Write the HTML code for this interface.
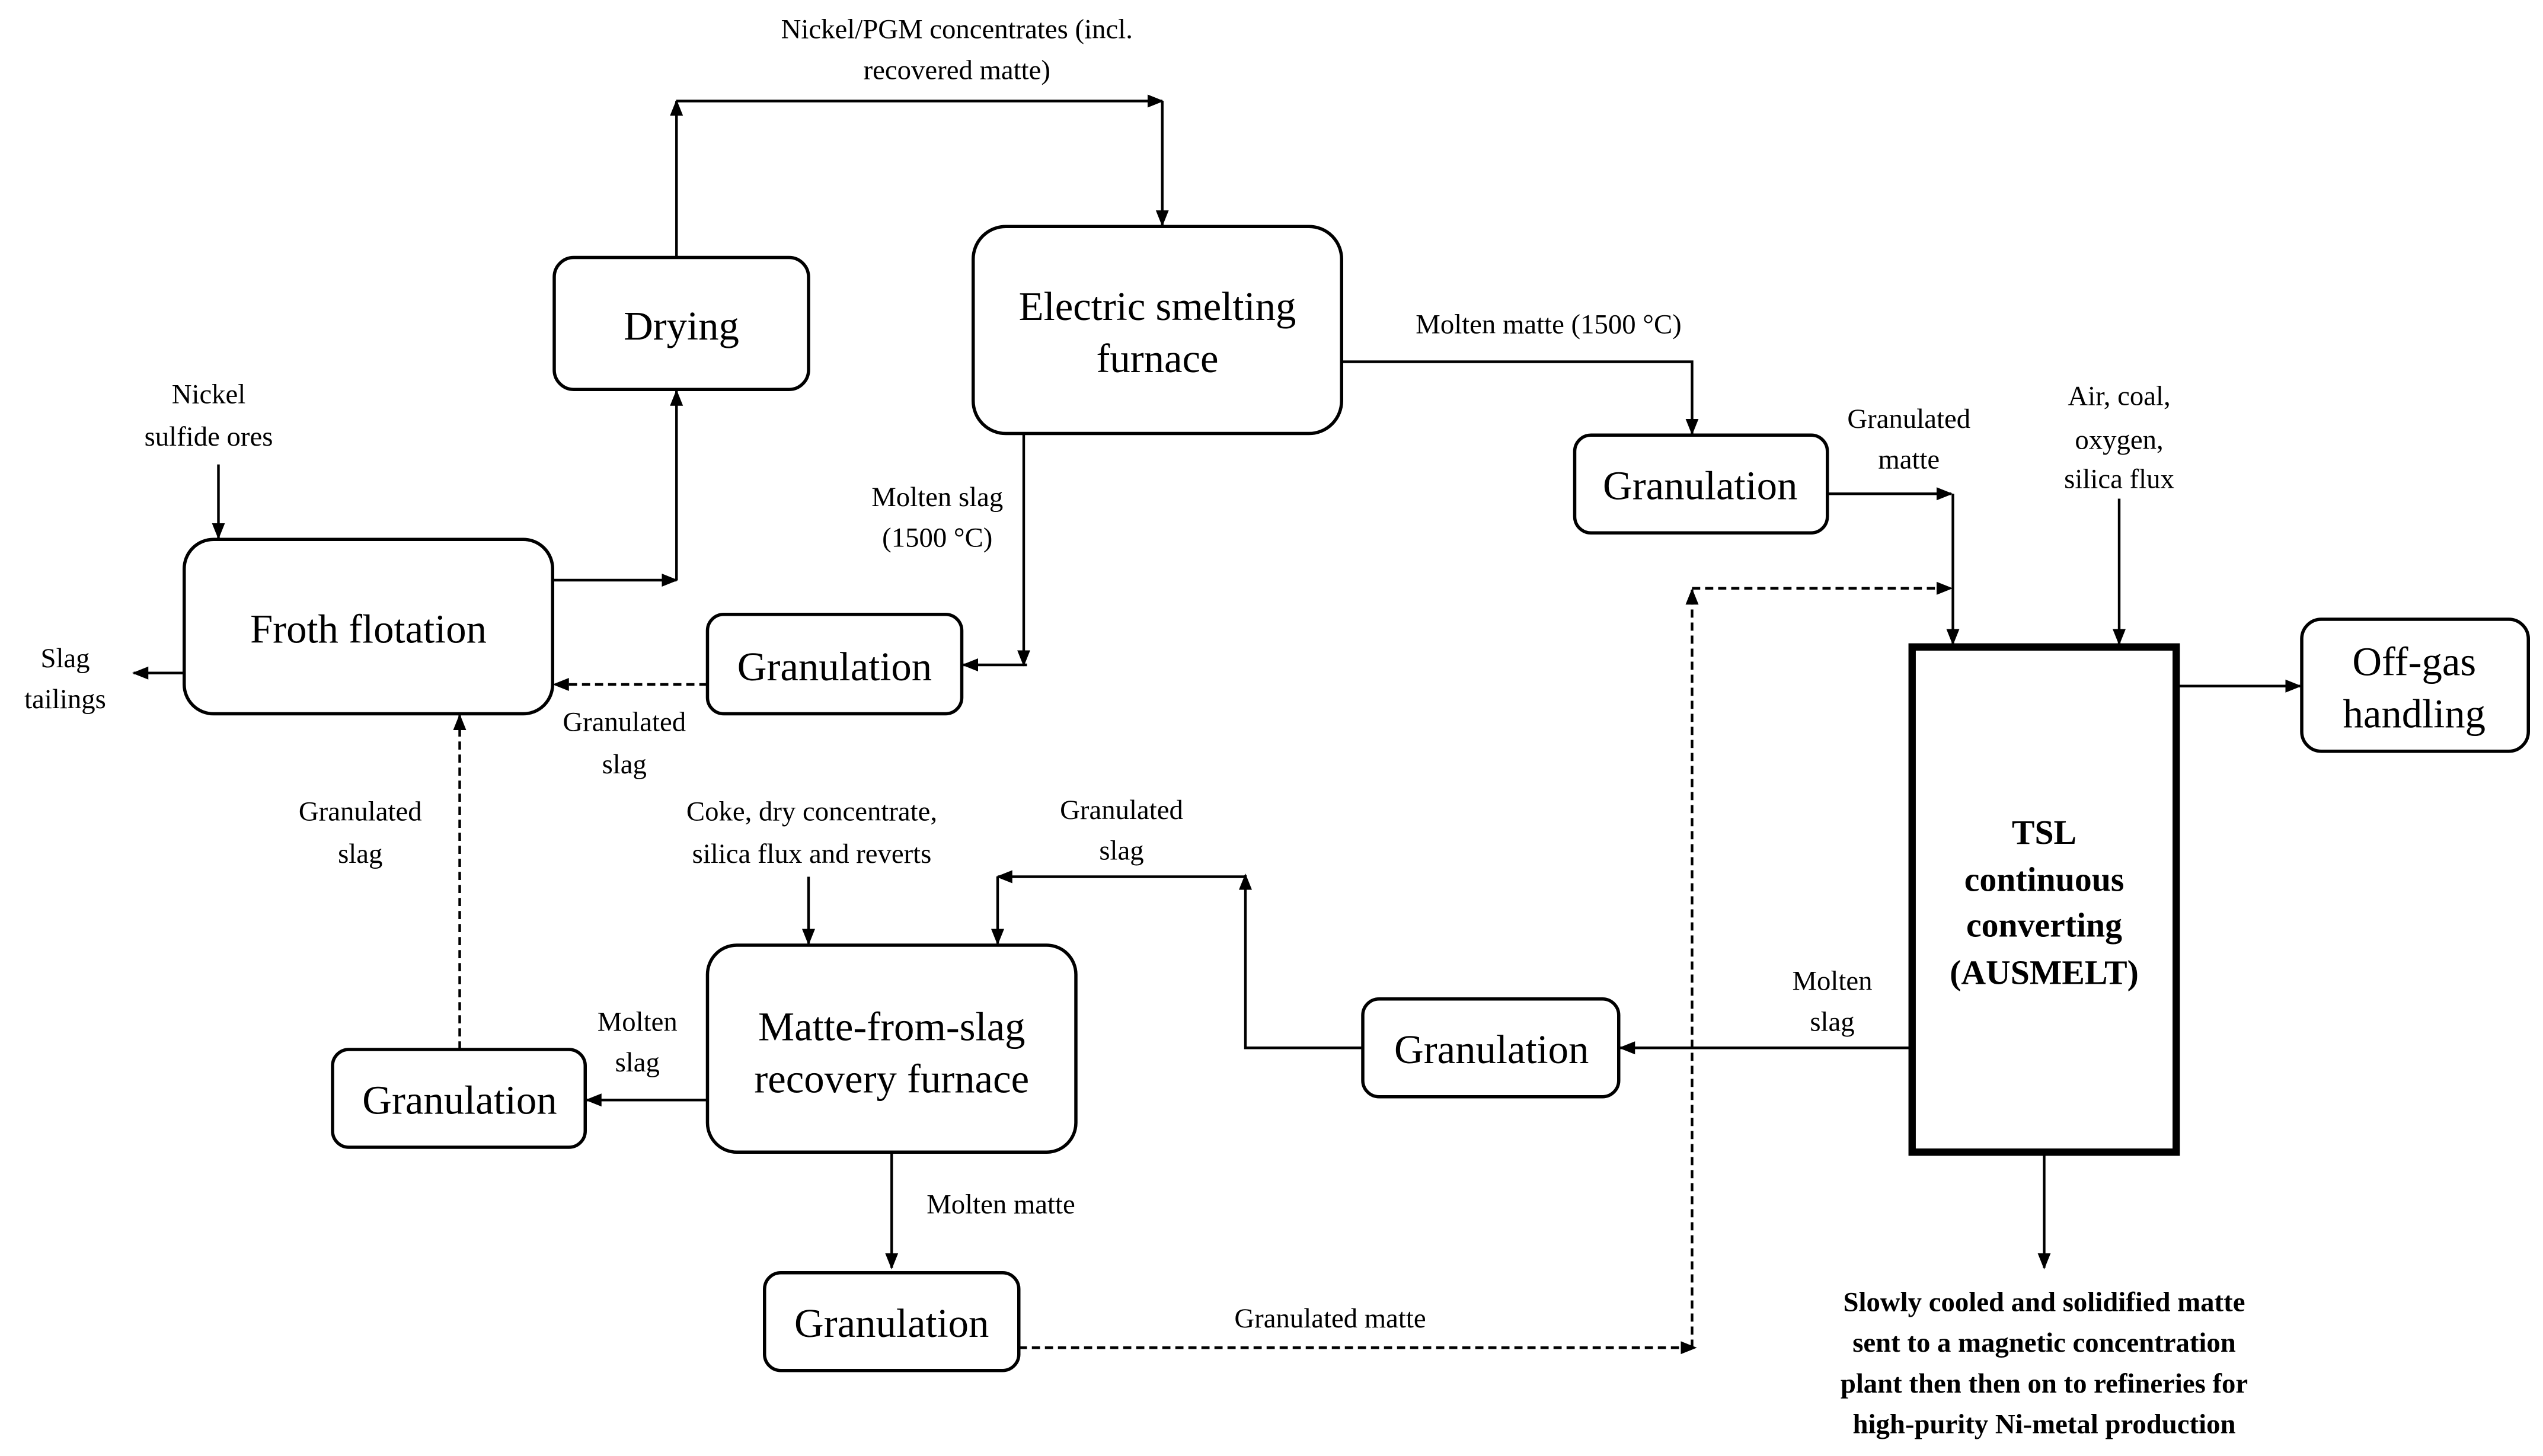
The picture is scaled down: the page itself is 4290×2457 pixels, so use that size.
<!DOCTYPE html>
<html><head><meta charset="utf-8"><style>html,body{margin:0;padding:0;background:#fff}svg{display:block}svg text{font-family:"Liberation Serif","Times New Roman",serif}</style></head>
<body>
<svg width="4290" height="2457" viewBox="0 0 1560 893.45" xmlns="http://www.w3.org/2000/svg" style="font-family:'Liberation Serif',serif">
<defs>
<marker id="a" markerUnits="userSpaceOnUse" markerWidth="10" markerHeight="10" viewBox="0 0 10 10" refX="9" refY="5" orient="auto"><path d="M0,1 L10,5 L0,9 z" fill="#000"/></marker>
</defs>
<g fill="none" stroke="#000" stroke-width="2">
<rect x="340" y="158" width="156" height="81" rx="12"/>
<rect x="597" y="139" width="226" height="127" rx="20"/>
<rect x="113" y="331" width="226" height="107" rx="18"/>
<rect x="434" y="377" width="156" height="61" rx="10"/>
<rect x="966" y="267" width="155" height="60" rx="10"/>
<rect x="1412" y="380" width="139" height="81" rx="12"/>
<rect x="836" y="613" width="157" height="60" rx="10"/>
<rect x="434" y="580" width="226" height="127" rx="18"/>
<rect x="204" y="644" width="155" height="60" rx="10"/>
<rect x="469" y="781" width="156" height="60" rx="10"/>
<rect x="1173" y="397" width="162" height="310" stroke-width="4.5"/>
</g>
<g fill="none" stroke="#000" stroke-width="1.6">
<path d="M134,285 V330" marker-end="url(#a)"/>
<path d="M339,356 H415" marker-end="url(#a)"/>
<path d="M415,356 V240" marker-end="url(#a)"/>
<path d="M415,158 V62" marker-end="url(#a)"/>
<path d="M415,62 H713" marker-end="url(#a)"/>
<path d="M713,62 V138" marker-end="url(#a)"/>
<path d="M823,222 H1038 V266" marker-end="url(#a)"/>
<path d="M628,266 V408" marker-end="url(#a)"/>
<path d="M630,408 H591" marker-end="url(#a)"/>
<path d="M113,413 H82" marker-end="url(#a)"/>
<path d="M434,675 H360" marker-end="url(#a)"/>
<path d="M496,538 V579" marker-end="url(#a)"/>
<path d="M836,643 H764 V537" marker-end="url(#a)"/>
<path d="M764,538 H612" marker-end="url(#a)"/>
<path d="M612,538 V579" marker-end="url(#a)"/>
<path d="M1172,643 H994" marker-end="url(#a)"/>
<path d="M547,707 V778" marker-end="url(#a)"/>
<path d="M1121,303 H1197" marker-end="url(#a)"/>
<path d="M1198,303 V395" marker-end="url(#a)"/>
<path d="M1300,306 V395" marker-end="url(#a)"/>
<path d="M1336,421 H1411" marker-end="url(#a)"/>
<path d="M1254,708 V778" marker-end="url(#a)"/>
</g>
<g fill="none" stroke="#000" stroke-width="1.6" stroke-dasharray="5,3">
<path d="M434,420 H340" marker-end="url(#a)"/>
<path d="M282,644 V439" marker-end="url(#a)"/>
<path d="M625,827 H1040" marker-end="url(#a)"/>
<path d="M1038,827 V362" marker-end="url(#a)"/>
<path d="M1038,361 H1197" marker-end="url(#a)"/>
</g>
<g text-anchor="middle" dominant-baseline="central" fill="#000" font-size="25">
<text x="418" y="200">Drying</text>
<text x="710" y="188">Electric smelting</text>
<text x="710" y="220">furnace</text>
<text x="226" y="386">Froth flotation</text>
<text x="512" y="409">Granulation</text>
<text x="1043" y="298">Granulation</text>
<text x="1481" y="406">Off-gas</text>
<text x="1481" y="438">handling</text>
<text x="915" y="644">Granulation</text>
<text x="547" y="630">Matte-from-slag</text>
<text x="547" y="662">recovery furnace</text>
<text x="282" y="675">Granulation</text>
<text x="547" y="812">Granulation</text>
</g>
<g text-anchor="middle" dominant-baseline="central" fill="#000" font-size="21" font-weight="bold">
<text x="1254" y="511">TSL</text>
<text x="1254" y="540">continuous</text>
<text x="1254" y="568">converting</text>
<text x="1254" y="597">(AUSMELT)</text>
</g>
<g text-anchor="middle" dominant-baseline="central" fill="#000" font-size="17">
<text x="587" y="18">Nickel/PGM concentrates (incl.</text>
<text x="587" y="43">recovered matte)</text>
<text x="128" y="242">Nickel</text>
<text x="128" y="268">sulfide ores</text>
<text x="950" y="199">Molten matte (1500 °C)</text>
<text x="575" y="305">Molten slag</text>
<text x="575" y="330">(1500 °C)</text>
<text x="383" y="443">Granulated</text>
<text x="383" y="469">slag</text>
<text x="40" y="404">Slag</text>
<text x="40" y="429">tailings</text>
<text x="221" y="498">Granulated</text>
<text x="221" y="524">slag</text>
<text x="391" y="627">Molten</text>
<text x="391" y="652">slag</text>
<text x="498" y="498">Coke, dry concentrate,</text>
<text x="498" y="524">silica flux and reverts</text>
<text x="688" y="497">Granulated</text>
<text x="688" y="522">slag</text>
<text x="1124" y="602">Molten</text>
<text x="1124" y="627">slag</text>
<text x="614" y="739">Molten matte</text>
<text x="816" y="809">Granulated matte</text>
<text x="1171" y="257">Granulated</text>
<text x="1171" y="282">matte</text>
<text x="1300" y="243">Air, coal,</text>
<text x="1300" y="270">oxygen,</text>
<text x="1300" y="294">silica flux</text>
</g>
<g text-anchor="middle" dominant-baseline="central" fill="#000" font-size="17" font-weight="bold">
<text x="1254" y="799">Slowly cooled and solidified matte</text>
<text x="1254" y="824">sent to a magnetic concentration</text>
<text x="1254" y="849">plant then then on to refineries for</text>
<text x="1254" y="874">high-purity Ni-metal production</text>
</g>
</svg>
</body></html>
